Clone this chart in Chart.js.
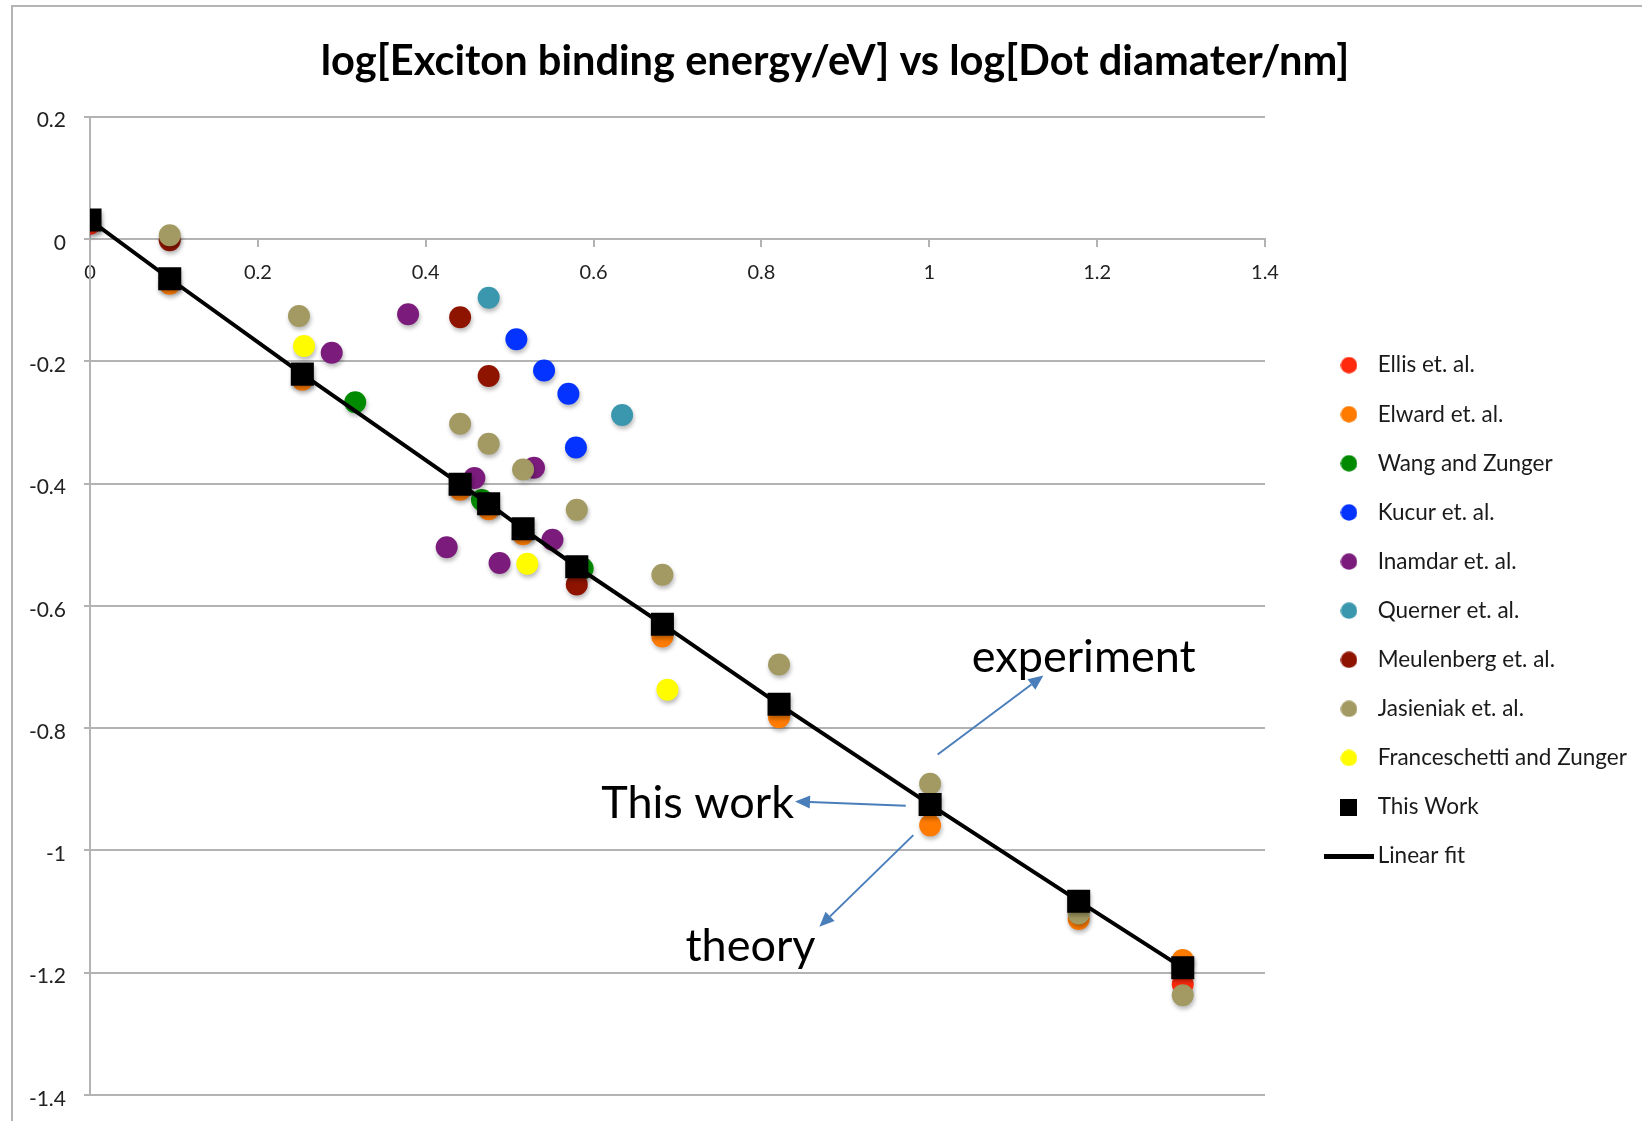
<!DOCTYPE html>
<html>
<head>
<meta charset="utf-8">
<title>Exciton binding energy vs dot diameter</title>
<script src="https://cdn.jsdelivr.net/npm/chart.js@4.4.1/dist/chart.umd.min.js"></script>
<style>
  html, body { margin: 0; padding: 0; background: #fff; }
  canvas { display: block; }
</style>
</head>
<body>
<canvas id="chart" width="1642" height="1121"></canvas>
<script>
// points as [log(diameter/nm), log(binding energy/eV)]
const ellis = [[0, 0.025], [1.302, -1.219]];
const elward = [[0.095, -0.073], [0.253, -0.230], [0.441, -0.410], [0.475, -0.442], [0.516, -0.483],
  [0.682, -0.650], [0.821, -0.782], [1.001, -0.959], [1.178, -1.112], [1.302, -1.179]];
const wangZunger = [[0.316, -0.267], [0.467, -0.427], [0.587, -0.539]];
const kucur = [[0.508, -0.164], [0.541, -0.215], [0.570, -0.253], [0.579, -0.341]];
const inamdar = [[0.288, -0.186], [0.379, -0.123], [0.458, -0.391], [0.529, -0.374], [0.551, -0.492],
  [0.425, -0.504], [0.488, -0.530]];
const querner = [[0.475, -0.096], [0.634, -0.288]];
const meulenberg = [[0.095, -0.002], [0.441, -0.128], [0.475, -0.224], [0.580, -0.565]];
const jasieniak = [[0.095, 0.006], [0.249, -0.126], [0.441, -0.302], [0.475, -0.335], [0.516, -0.377],
  [0.580, -0.443], [0.682, -0.549], [0.821, -0.696], [1.001, -0.891], [1.178, -1.103], [1.302, -1.237]];
const franceschetti = [[0.255, -0.175], [0.521, -0.531], [0.688, -0.737]];
const thisWork = [[0, 0.031], [0.095, -0.065], [0.253, -0.221], [0.441, -0.401], [0.475, -0.433],
  [0.516, -0.474], [0.580, -0.536], [0.682, -0.630], [0.821, -0.761], [1.001, -0.925], [1.178, -1.083],
  [1.302, -1.192]];

const xTicks = [0, 0.2, 0.4, 0.6, 0.8, 1, 1.2, 1.4];
const yTicks = [-1.4, -1.2, -1, -0.8, -0.6, -0.4, -0.2, 0, 0.2];

// callouts, in data units
const notes = [
  { text: "experiment", x: 1.184, y: -0.708 },
  { text: "This work", x: 0.724, y: -0.947 },
  { text: "theory", x: 0.787, y: -1.181 },
];
const arrows = [
  [1.010, -0.843, 1.136, -0.714],
  [0.972, -0.927, 0.840, -0.920],
  [0.981, -0.975, 0.869, -1.125],
];

const toXY = (pts) => pts.map(([x, y]) => ({ x, y }));

function dotStyle(label, pts, color, order) {
  return {
    label: label,
    data: toXY(pts),
    backgroundColor: color,
    borderColor: color,
    borderWidth: 0,
    pointRadius: 11,
    pointStyle: "circle",
    order: order,
  };
}

const datasets = [
  dotStyle("Ellis et. al.", ellis, "#ff2a0d", 11),
  dotStyle("Elward et. al.", elward, "#ff7b00", 10),
  dotStyle("Wang and Zunger", wangZunger, "#008a00", 9),
  dotStyle("Kucur et. al.", kucur, "#0433ff", 8),
  dotStyle("Inamdar et. al.", inamdar, "#7b1c7c", 7),
  dotStyle("Querner et. al.", querner, "#3b97ad", 6),
  dotStyle("Meulenberg et. al.", meulenberg, "#8f1400", 5),
  dotStyle("Jasieniak et. al.", jasieniak, "#a29a62", 4),
  dotStyle("Franceschetti and Zunger", franceschetti, "#fffc00", 3),
  {
    label: "This Work",
    data: toXY(thisWork),
    backgroundColor: "#000",
    borderWidth: 0,
    pointStyle: "rect",
    pointRadius: 16.3,
    order: 1,
  },
  {
    label: "Linear fit",
    data: toXY(thisWork),
    showLine: true,
    borderColor: "#000",
    borderWidth: 4,
    pointRadius: 0,
    order: 2,
  },
];

// legend markers as small canvases so size is exact
function marker(w, h, draw) {
  const c = document.createElement("canvas");
  c.width = w;
  c.height = h;
  draw(c.getContext("2d"));
  return c;
}
const legendMarkers = datasets.map((ds) => {
  if (ds.label === "This Work") return marker(17, 17, (g) => { g.fillStyle = "#000"; g.fillRect(0, 0, 17, 17); });
  if (ds.label === "Linear fit") return marker(50, 5, (g) => { g.fillStyle = "#000"; g.fillRect(0, 0, 50, 5); });
  return marker(17, 17, (g) => {
    g.fillStyle = ds.backgroundColor;
    g.beginPath();
    g.arc(8.5, 8.5, 8.3, 0, Math.PI * 2);
    g.fill();
  });
});

// layout: plot spans x 90..1265, legend sits a bit to the right of it
const plotLeft = 90, plotRight = 1265, titleCenter = 835, padLeft = 12;
const legendFontSize = 22.5, legendPad = 26.6, legendBoxW = 34.9, legendGap = 39.9;
const meas = document.createElement("canvas").getContext("2d");
meas.font = legendFontSize + "px Lato";
const longest = Math.max(...datasets.map((d) => meas.measureText(d.label).width));
const legendWidth = legendPad + legendBoxW + legendFontSize / 2 + longest + 10;
const padRight = 1642 - plotRight - legendWidth;

const fmt = (v) => String(Math.round(v * 10) / 10);

const frameAndNotes = {
  id: "frameAndNotes",
  afterLayout(chart) {
    const lg = chart.legend;
    const w = lg.right - lg.left;
    lg.left = chart.chartArea.right + legendGap;
    lg.right = lg.left + w;
    const t = chart.titleBlock;
    const tw = t.right - t.left;
    t.left = titleCenter - tw / 2;
    t.right = titleCenter + tw / 2;
  },
  beforeDatasetDraw(chart, args) {
    const ds = chart.data.datasets[args.index];
    if (ds.showLine) return;
    const ctx = chart.ctx;
    ctx.save();
    ctx.shadowColor = "rgba(0,0,0,0.28)";
    ctx.shadowBlur = 4;
    ctx.shadowOffsetX = 1;
    ctx.shadowOffsetY = 3;
  },
  afterDatasetDraw(chart, args) {
    const ds = chart.data.datasets[args.index];
    if (ds.showLine) return;
    chart.ctx.restore();
  },
  afterDraw(chart) {
    const ctx = chart.ctx;
    const sx = chart.scales.x, sy = chart.scales.y;
    ctx.save();
    // outer chart frame (cut off on right and bottom in the original)
    ctx.strokeStyle = "#b4b4b4";
    ctx.lineWidth = 2;
    ctx.strokeRect(12, 6, 1700, 1200);

    ctx.fillStyle = "#000";
    ctx.font = "45px Lato";
    ctx.textAlign = "center";
    ctx.textBaseline = "alphabetic";
    notes.forEach((n) => ctx.fillText(n.text, sx.getPixelForValue(n.x), sy.getPixelForValue(n.y)));

    ctx.strokeStyle = "#4a7ebb";
    ctx.fillStyle = "#4a7ebb";
    ctx.lineWidth = 2;
    arrows.forEach(([ax, ay, bx, by]) => {
      const x1 = sx.getPixelForValue(ax), y1 = sy.getPixelForValue(ay);
      const x2 = sx.getPixelForValue(bx), y2 = sy.getPixelForValue(by);
      const a = Math.atan2(y2 - y1, x2 - x1);
      const hx = x2 - 15 * Math.cos(a), hy = y2 - 15 * Math.sin(a);
      ctx.beginPath();
      ctx.moveTo(x1, y1);
      ctx.lineTo(hx, hy);
      ctx.stroke();
      ctx.beginPath();
      ctx.moveTo(x2, y2);
      ctx.lineTo(hx + 6.5 * Math.sin(a), hy - 6.5 * Math.cos(a));
      ctx.lineTo(hx - 6.5 * Math.sin(a), hy + 6.5 * Math.cos(a));
      ctx.closePath();
      ctx.fill();
    });
    ctx.restore();
  },
};

Chart.defaults.font.family = "Lato";
Chart.defaults.color = "#222";

new Chart(document.getElementById("chart"), {
  type: "scatter",
  data: { datasets: datasets },
  plugins: [frameAndNotes],
  options: {
    responsive: false,
    animation: false,
    events: [],
    layout: { padding: { left: padLeft, top: 8, right: padRight, bottom: 26 } },
    scales: {
      x: {
        type: "linear",
        min: 0,
        max: 1.4,
        position: { y: 0 },
        afterBuildTicks: (s) => { s.ticks = xTicks.map((v) => ({ value: v })); },
        grid: { drawOnChartArea: false, tickLength: 7, color: "#b3b3b3", lineWidth: 2 },
        border: { color: "#b3b3b3", width: 2 },
        ticks: { padding: 15, color: "#222", font: { size: 20 }, callback: fmt, maxRotation: 0, autoSkip: false },
      },
      y: {
        type: "linear",
        min: -1.4,
        max: 0.2,
        afterBuildTicks: (s) => { s.ticks = yTicks.map((v) => ({ value: v })); },
        grid: { color: "#b3b3b3", lineWidth: 2, tickLength: 6 },
        border: { color: "#b3b3b3", width: 2 },
        ticks: { padding: 18, labelOffset: 4, color: "#222", font: { size: 21 }, callback: fmt },
        afterFit: (s) => {
          s.width = plotLeft - padLeft;
          s.paddingTop = 12;
          s.paddingBottom = 12;
        },
      },
    },
    plugins: {
      title: {
        display: true,
        text: "log[Exciton binding energy/eV] vs log[Dot diamater/nm]",
        color: "#000",
        font: { size: 41.6, weight: "bold", lineHeight: 1.2 },
        padding: { top: 28.5, bottom: 30.3 },
      },
      legend: {
        position: "right",
        align: "start",
        fullSize: false,
        title: { display: true, text: "", font: { size: 10, lineHeight: 1 }, padding: { top: 200.6, bottom: 0 } },
        labels: {
          usePointStyle: true,
          pointStyleWidth: legendBoxW,
          boxHeight: 17,
          padding: legendPad,
          color: "#1a1a1a",
          font: { size: legendFontSize },
          sort: (a, b) => a.datasetIndex - b.datasetIndex,
          generateLabels(chart) {
            const items = Chart.defaults.plugins.legend.labels.generateLabels(chart);
            items.forEach((it) => { it.pointStyle = legendMarkers[it.datasetIndex]; });
            return items;
          },
        },
      },
      tooltip: { enabled: false },
    },
  },
});
</script>
</body>
</html>
